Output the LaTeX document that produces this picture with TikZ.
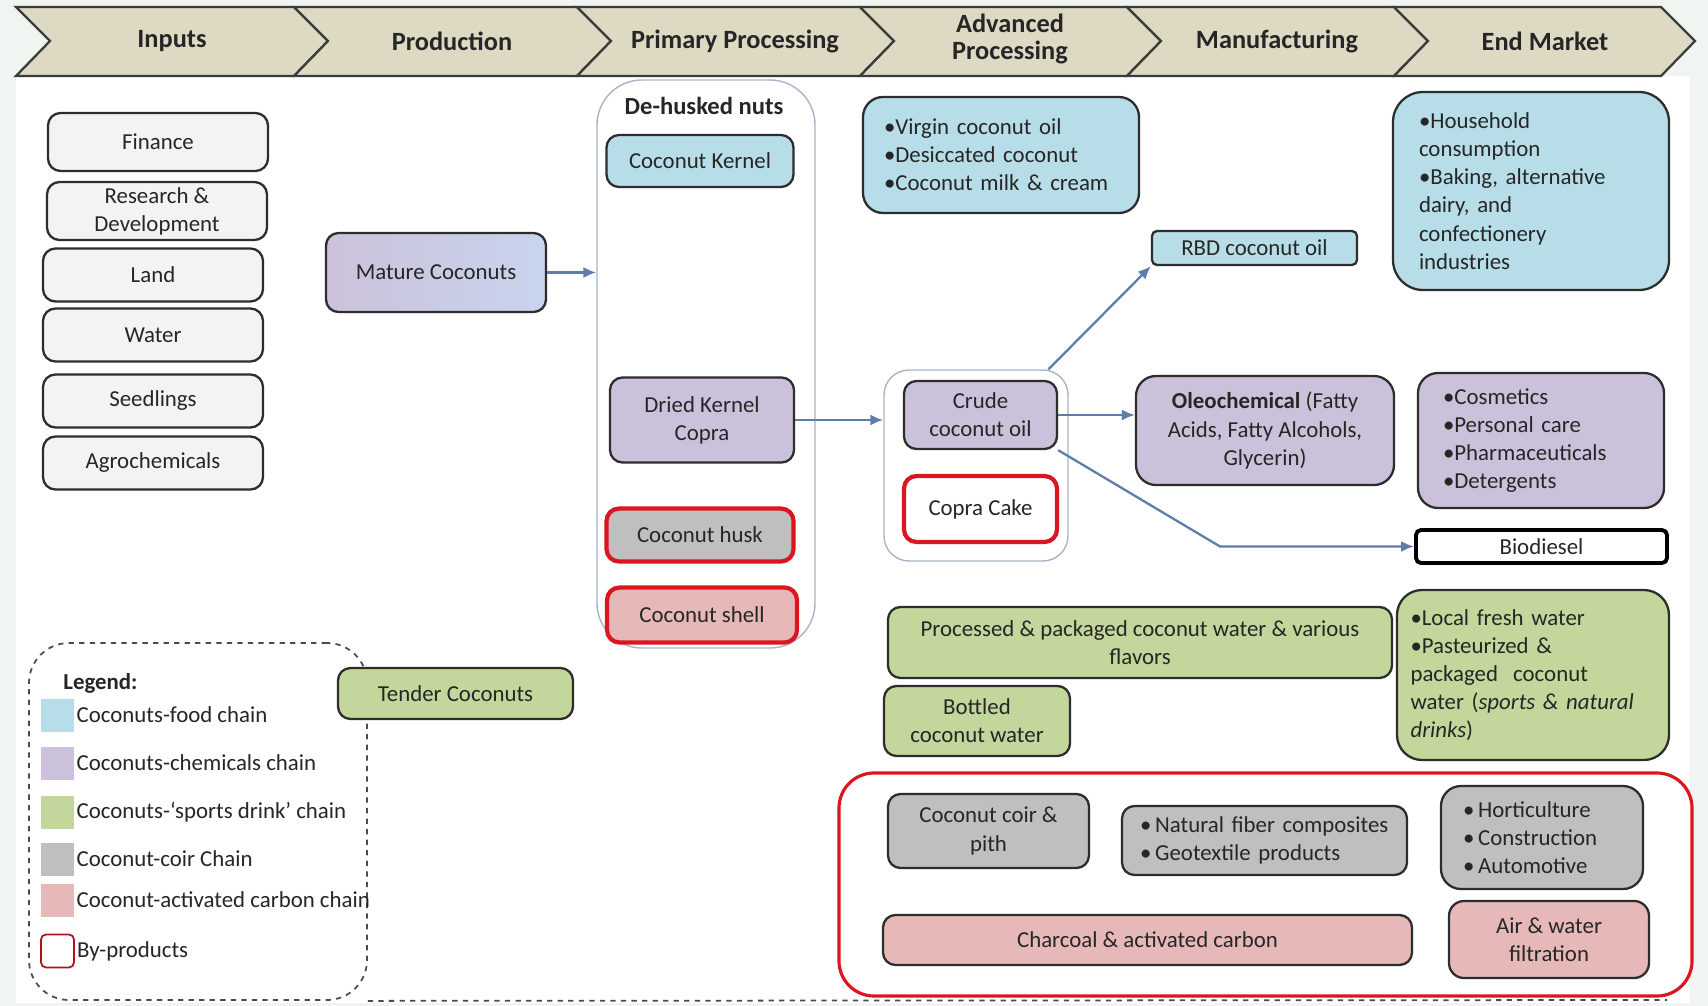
\documentclass[tikz,border=0pt]{standalone}
\usepackage{xcolor}
\usepackage{tikz}
\usepackage{fontspec}
\setmainfont{Carlito}
\usetikzlibrary{arrows.meta,positioning}

\begin{document}
\begin{tikzpicture}[x=0.2mm,y=-0.2mm,
  box/.style={draw=boxline, line width=1.3pt, rounded corners=2.5mm, align=center, inner sep=1mm, text=black!85, font=\fontsize{13}{16}\selectfont},
  inbox/.style={box, fill=inputcol, minimum width=44mm, minimum height=10.6mm},
  foodbox/.style={box, fill=foodcol},
  chembox/.style={box, fill=chemcol},
  drinkbox/.style={box, fill=drinkcol},
  coirbox/.style={box, fill=coircol},
  carbbox/.style={box, fill=carbcol},
  byprod/.style={draw=byred, line width=2.4pt},
  holder/.style={draw=contline, line width=0.8pt, fill=white},
  flow/.style={draw=flowcol, line width=1.3pt, -{Latex[length=2.6mm,width=2.2mm]}},
  stage/.style={draw=stageline, line width=1.3pt, fill=stagecol, line join=miter},
  stagetext/.style={font=\fontsize{15}{17}\selectfont\bfseries, text=black!85, align=center},
  legendbox/.style={draw=black!70, line width=1pt, dashed, rounded corners=8mm},
  legline/.style={draw=black!70, line width=1pt, dashed},
  swatch/.style={minimum size=6.6mm, inner sep=0pt},
  legtext/.style={font=\fontsize{13}{16}\selectfont, text=black!85, inner sep=0pt, anchor=west}]
% Define colours
\definecolor{bgcol}{RGB}{241,245,241}     % Page margin
\definecolor{stagecol}{RGB}{221,217,195}  % Chevron beige
\definecolor{stageline}{RGB}{60,60,60}
\definecolor{boxline}{RGB}{45,45,45}
\definecolor{inputcol}{RGB}{243,243,243}  % Inputs
\definecolor{foodcol}{RGB}{183,222,232}   % Food chain
\definecolor{chemcol}{RGB}{204,193,218}   % Chemicals chain
\definecolor{maturecol}{RGB}{200,212,238}
\definecolor{drinkcol}{RGB}{195,214,155}  % Sports drink chain
\definecolor{coircol}{RGB}{191,191,191}   % Coir chain
\definecolor{carbcol}{RGB}{230,185,184}   % Activated carbon chain
\definecolor{byred}{RGB}{218,22,32}       % By-products
\definecolor{contline}{RGB}{170,180,200}
\definecolor{flowcol}{RGB}{95,125,170}

% Page
\fill[bgcol] (0,0) rectangle (1708,1006);
\fill[white] (16,76) rectangle (1690,1003);

% Value chain stages
\draw[stage] (16,7) -- (294,7) -- (328,41) -- (294,76) -- (16,76) -- (50,41) -- cycle;
\node[stagetext] (inputs) at (172,41) {Inputs};
\draw[stage] (294,7) -- (577,7) -- (611,41) -- (577,76) -- (294,76) -- (328,41) -- cycle;
\node[stagetext] (production) at (452,41) {Production};
\draw[stage] (577,7) -- (860,7) -- (894,41) -- (860,76) -- (577,76) -- (611,41) -- cycle;
\node[stagetext] (primary) at (735,41) {Primary Processing};
\draw[stage] (860,7) -- (1127,7) -- (1161,41) -- (1127,76) -- (860,76) -- (894,41) -- cycle;
\node[stagetext, font=\fontsize{15}{15}\selectfont\bfseries] (advanced) at (1010,39) {Advanced\\Processing};
\draw[stage] (1127,7) -- (1394,7) -- (1428,41) -- (1394,76) -- (1127,76) -- (1161,41) -- cycle;
\node[stagetext] (manufacturing) at (1277,41) {Manufacturing};
\draw[stage] (1394,7) -- (1661,7) -- (1695,41) -- (1661,76) -- (1394,76) -- (1428,41) -- cycle;
\node[stagetext] (endmarket) at (1545,41) {End Market};

% Legend
\node[legendbox, minimum width=67.6mm, minimum height=71.4mm] (legend) at (198,821.5) {};
\draw[legline] (legend.south east) -- (1667,1000);
\node[legtext] (legendtitle) at (63,683) {\textbf{Legend:}};
\node[swatch, fill=foodcol] (swfood) at (57.5,715) {};
\node[legtext, right=0.4mm of swfood] (lgfood) {Coconuts-food chain};
\node[swatch, fill=chemcol] (swchem) at (57.5,763) {};
\node[legtext, right=0.4mm of swchem] (lgchem) {Coconuts-chemicals chain};
\node[swatch, fill=drinkcol] (swdrink) at (57.5,812) {};
\node[legtext, right=0.4mm of swdrink] (lgdrink) {Coconuts-‘sports drink’ chain};
\node[swatch, fill=coircol] (swcoir) at (57.5,859) {};
\node[legtext, right=0.4mm of swcoir] (lgcoir) {Coconut-coir Chain};
\node[swatch, fill=carbcol] (swcarb) at (57.5,900) {};
\node[legtext, right=0.4mm of swcarb] (lgcarb) {Coconut-activated carbon chain};
\node[swatch, fill=white, draw=byred!80!black, line width=1pt, rounded corners=1mm] (swby) at (57.5,951) {};
\node[legtext, right=0.4mm of swby] (lgby) {By-products};

% Inputs
\node[inbox, minimum height=11.6mm] (finance) at (158,142) {Finance};
\node[inbox, minimum height=11.6mm] (research) at (157,211) {Research \&\\Development};
\node[inbox] (land) at (153,275) {Land};
\node[inbox] (water) at (153,335) {Water};
\node[inbox] (seedlings) at (153,401) {Seedlings};
\node[inbox] (agrochem) at (153,463) {Agrochemicals};

% Production
\node[box, left color=chemcol, right color=maturecol, minimum width=44mm, minimum height=15.8mm] (mature) at (436,272.5) {Mature Coconuts};
\node[drinkbox, minimum width=47mm, minimum height=10.2mm] (tender) at (455.5,693.5) {Tender Coconuts};

% Primary processing
\node[holder, minimum width=43.6mm, minimum height=113.6mm, rounded corners=9mm] (dehusk) at (706,364) {};
\node[font=\fontsize{14}{16}\selectfont\bfseries, text=black!85] (dehusktitle) at (704,106) {De-husked nuts};
\node[foodbox, minimum width=37.4mm, minimum height=10.4mm] (kernel) at (700,161) {Coconut Kernel};
\node[chembox, minimum width=36.8mm, minimum height=17mm] (copra) at (702,420) {Dried Kernel\\Copra};
\node[coirbox, byprod, minimum width=37.4mm, minimum height=10.6mm] (husk) at (700,535) {Coconut husk};
\node[carbbox, byprod, minimum width=38mm, minimum height=11mm] (shell) at (702,615) {Coconut shell};

% Advanced processing
\node[foodbox, align=left, text width=46.8mm, inner xsep=4.2mm, minimum height=23.2mm, rounded corners=4mm] (foodproc) at (1001,155) {•Virgin coconut oil\\•Desiccated coconut\\•Coconut milk \& cream};
\node[holder, minimum width=36.8mm, minimum height=38.2mm, rounded corners=5mm] (oilbox) at (976,465.5) {};
\node[chembox, minimum width=30.6mm, minimum height=13.6mm] (crude) at (980.5,415) {Crude\\coconut oil};
\node[box, fill=white, byprod, minimum width=30.6mm, minimum height=13.2mm] (cake) at (980.5,509) {Copra Cake};
\node[drinkbox, minimum width=100.8mm, minimum height=14.2mm] (packwater) at (1140,642.5) {Processed \& packaged coconut water \& various\\flavors};
\node[drinkbox, minimum width=37.2mm, minimum height=14mm] (bottled) at (977,721) {Bottled\\coconut water};

% Manufacturing
\node[foodbox, rounded corners=1mm, minimum width=41mm, minimum height=6.8mm, inner sep=0.5mm] (rbd) at (1254.5,248) {RBD coconut oil};
\node[chembox, rounded corners=4mm, minimum width=51.6mm, minimum height=21.8mm] (oleo) at (1265,430.5) {\textbf{Oleochemical} (Fatty\\Acids, Fatty Alcohols,\\Glycerin)};

% End market
\node[foodbox, align=left, text width=44.8mm, inner xsep=5.2mm, minimum height=39.6mm, rounded corners=6mm] (foodmkt) at (1531,191) {•Household\\consumption\\•Baking, alternative\\dairy, and\\confectionery\\industries};
\node[chembox, align=left, text width=39.2mm, inner xsep=5mm, minimum height=27mm, rounded corners=4mm] (chemmkt) at (1541,440.5) {•Cosmetics\\•Personal care\\•Pharmaceuticals\\•Detergents};
\node[box, fill=white, draw=black, line width=2.2pt, rounded corners=1mm, minimum width=50.2mm, minimum height=6.6mm, inner sep=0.5mm] (biodiesel) at (1541.5,546.5) {Biodiesel};
\node[drinkbox, align=left, text width=49mm, inner xsep=2.7mm, minimum height=34mm, rounded corners=5mm] (drinkmkt) at (1533,675) {•Local fresh water\\•Pasteurized \&\\packaged\ \ coconut\\water (\textit{sports \& natural}\\\textit{drinks})};

% By-products
\node[holder, draw=byred, line width=1.8pt, minimum width=170.6mm, minimum height=44.6mm, rounded corners=7mm] (byproducts) at (1265.5,884.5) {};
\node[coirbox, minimum width=40.2mm, minimum height=14.8mm] (coir) at (988.5,831) {Coconut coir \&\\pith};
\node[coirbox, align=left, text width=49.8mm, inner xsep=3.6mm, minimum height=13.8mm] (fibre) at (1264.5,840.5) {•\,Natural fiber composites\\•\,Geotextile products};
\node[coirbox, align=left, text width=31.6mm, inner xsep=4.4mm, minimum height=20.6mm, rounded corners=4mm] (coirmkt) at (1542,837.5) {•\,Horticulture\\•\,Construction\\•\,Automotive};
\node[carbbox, minimum width=105.8mm, minimum height=10mm] (charcoal) at (1147.5,940) {Charcoal \& activated carbon};
\node[carbbox, minimum width=40mm, minimum height=15.4mm, rounded corners=3mm] (filtration) at (1549,939.5) {Air \& water\\filtration};

% Flows
\draw[flow] (mature.east) -- (mature.east -| dehusk.west);
\draw[flow] (copra.east) -- (copra.east -| oilbox.west);
\draw[flow] (crude.east) -- (crude.east -| oleo.west);
\draw[flow] (oilbox.53) -- (rbd.south west);
\coordinate (biobend) at (1220,546.5);
\draw[flow] (crude.south east) -- (biobend) -- (biodiesel.west);
\end{tikzpicture}
\end{document}
